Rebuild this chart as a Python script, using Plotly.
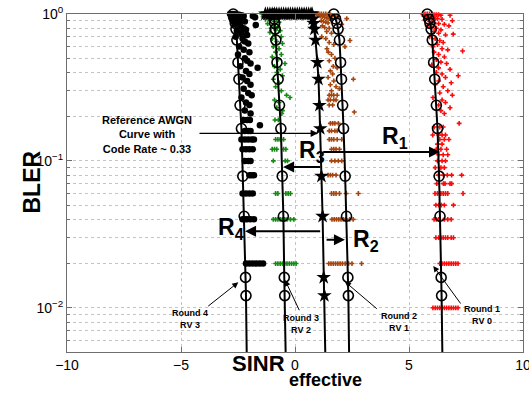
import math
import plotly.graph_objects as go

# ---------------- data ----------------
# BLER levels at which the curve markers sit (common to all curves)
curve_bler = [1.0, 0.925, 0.864, 0.79, 0.665, 0.468, 0.36, 0.239, 0.166, 0.0787, 0.042, 0.0161, 0.0121]
tail_bler = 0.004

round4_x = [-2.71, -2.66, -2.62, -2.59, -2.55, -2.50, -2.46, -2.41, -2.35, -2.29, -2.23, -2.17, -2.15]
round4_tail = -2.11
round3_x = [-0.93, -0.91, -0.89, -0.87, -0.84, -0.79, -0.74, -0.68, -0.62, -0.56, -0.51, -0.47, -0.45]
round3_tail = -0.40
awgn_x = [0.75, 0.78, 0.82, 0.85, 0.90, 0.98, 1.03, 1.07, 1.11, 1.16, 1.21, 1.26, 1.29]
awgn_tail = 1.34
awgn_band_x = [-1.3, -1.2, -1.1, -1.0, -0.9, -0.8, -0.7, -0.6, -0.5, -0.4, -0.3, -0.2, -0.1,
               0.0, 0.1, 0.2, 0.3, 0.4, 0.5, 0.6, 0.7]
awgn_band_bler = 1.0
round2_x = [1.70, 1.78, 1.84, 1.89, 1.95, 2.00, 2.04, 2.09, 2.13, 2.20, 2.26, 2.32, 2.34]
round2_tail = 2.38
round1_x = [5.80, 5.87, 5.92, 5.97, 6.02, 6.08, 6.13, 6.20, 6.25, 6.32, 6.36, 6.41, 6.43]
round1_tail = 6.47

# scattered per-channel points, upper (continuous) part: x, bler
black_up_x = [-2.85, -2.75, -2.65, -2.55, -2.45, -2.35, -2.25, -1.85, -1.75, -2.8, -2.6, -2.4, -2.3, -2.2, -2.7, -2.5, -1.72,
              -2.65, -2.4, -2.25, -2.15, -2.55, -2.35, -2.1, -2.6, -2.3, -2.2, -2.05, -2.45, -2.25, -2.0,
              -2.5, -2.2, -2.1, -1.95, -1.64, -2.4, -2.15, -2.0, -2.3, -2.1, -1.95, -2.25, -2.05, -1.9, -2.35, -2.15, -2.0, -2.2, -1.95]
black_up_y = [1.0, 1.0, 1.0, 0.99, 0.99, 0.98, 0.97, 0.97, 0.95, 0.95, 0.94, 0.93, 0.91, 0.89, 0.9, 0.88, 0.84,
              0.85, 0.83, 0.8, 0.78, 0.77, 0.74, 0.72, 0.7, 0.68, 0.65, 0.63, 0.6, 0.57, 0.55,
              0.53, 0.5, 0.48, 0.46, 0.43, 0.44, 0.41, 0.39, 0.37, 0.35, 0.33, 0.31, 0.29, 0.28, 0.27, 0.25, 0.24, 0.22, 0.21]
black_rows = [(0.19, [-2.25, -2.1, -1.98]), (0.175, [-1.54]), (0.16, [-2.2, -2.05, -1.95]),
              (0.14, [-2.35, -2.2, -2.05, -1.9, -1.8]), (0.12, [-2.3, -2.15, -2.0, -1.85]),
              (0.10, [-2.2, -2.05, -1.95]), (0.08, [-2.0, -1.9, -1.8]), (0.06, [-2.3, -2.15, -2.0, -1.85]),
              (0.04, [-2.3, -2.2, -2.1, -1.95, -1.8]), (0.02, [-2.15, -2.0, -1.85, -1.7, -1.55, -1.4])]

green_up_x = [-1.45, -1.35, -1.25, -1.15, -1.05, -0.95, -0.85, -0.75, -0.65, -1.4, -1.2, -1.0, -0.8, -1.3, -1.1, -0.9, -0.7,
              -1.2, -0.95, -0.75, -1.05, -0.85, -0.65, -1.1, -0.9, -0.6, -1.0, -0.8, -0.55, -0.95, -0.7, -0.85, -0.6, -1.0, -0.75, -0.44,
              -0.9, -0.65, -0.8, -0.55, -0.95, -0.7, -0.85, -0.6, -0.37, -0.22, -0.9, -0.7, -0.8, -0.55]
green_up_y = [1.0, 1.0, 1.0, 0.99, 0.99, 0.98, 0.98, 0.97, 0.97, 0.96, 0.95, 0.94, 0.93, 0.92, 0.9, 0.89, 0.88,
              0.86, 0.84, 0.82, 0.8, 0.78, 0.77, 0.75, 0.72, 0.7, 0.68, 0.65, 0.63, 0.6, 0.58, 0.55, 0.53, 0.51, 0.49, 0.46,
              0.44, 0.42, 0.4, 0.38, 0.36, 0.34, 0.32, 0.3, 0.28, 0.27, 0.26, 0.25, 0.23, 0.22]
green_rows = [(0.21, [-0.58]), (0.19, [-0.88, -0.73]), (0.14, [-0.85, -0.75, -0.65, -0.5]),
              (0.12, [-1.0, -0.9, -0.8, -0.5, -0.4]), (0.10, [-0.95, -0.43, -0.33]),
              (0.06, [-0.85, -0.75, -0.4, -0.3, -0.2]),
              (0.04, [-0.95, -0.85, -0.75, -0.65, -0.55, -0.45, -0.35, -0.2, -0.05]),
              (0.02, [-0.85, -0.75, -0.65, -0.55, -0.45, -0.35, -0.25, -0.15, -0.05, 0.05])]

brown_up_x = [0.95, 1.05, 1.15, 1.25, 1.35, 1.45, 1.55, 1.65, 1.75, 1.9, 1.0, 1.1, 1.2, 1.3, 1.4, 1.5, 2.27, 1.6,
              1.15, 1.25, 1.35, 1.45, 2.05, 1.2, 1.3, 1.5, 1.39, 1.6, 1.17, 1.35, 2.41, 1.5, 1.7, 2.19, 1.4, 1.46,
              1.6, 1.75, 1.5, 1.68, 1.85, 1.55, 1.65, 2.56, 1.45, 1.7, 1.55, 1.8, 1.6, 1.95]
brown_up_y = [1.0, 1.0, 1.0, 1.0, 1.0, 0.99, 0.99, 0.98, 0.97, 0.96, 0.98, 0.97, 0.96, 0.95, 0.94, 0.93, 0.93, 0.92,
              0.9, 0.89, 0.88, 0.87, 0.85, 0.83, 0.81, 0.8, 0.76, 0.74, 0.7, 0.68, 0.66, 0.64, 0.62, 0.6, 0.58, 0.55,
              0.53, 0.5, 0.48, 0.44, 0.43, 0.41, 0.39, 0.36, 0.37, 0.35, 0.33, 0.32, 0.3, 0.31]
brown_rows = [(0.28, [1.5, 1.6, 1.7, 1.85]), (0.26, [1.45, 1.55, 1.7, 1.8]), (0.24, [1.5, 1.65]),
              (0.215, [2.6]), (0.18, [1.55, 1.65, 1.75, 1.9]), (0.16, [1.5, 1.6, 1.75, 1.85]),
              (0.14, [1.5, 1.6, 1.7, 1.85, 2.05]), (0.12, [1.6, 1.7, 1.8, 1.95]),
              (0.10, [1.6, 1.75, 1.9, 2.05]), (0.08, [1.45, 1.55, 1.65, 1.8]),
              (0.06, [1.6, 1.7, 1.8, 1.95, 2.25, 2.78]),
              (0.04, [1.62, 1.72, 1.82, 1.92, 2.02, 2.12, 2.22, 2.4, 2.55]),
              (0.02, [1.48, 1.58, 1.68, 1.78, 1.88, 1.98, 2.08, 2.2, 2.35, 2.5, 2.92])]

red_up_x = [5.6, 5.7, 5.8, 5.9, 6.0, 6.1, 6.2, 6.3, 6.4, 6.8, 5.65, 5.75, 5.85, 5.95, 6.05, 6.15, 6.25, 6.45, 6.9,
            5.7, 5.9, 6.0, 6.1, 6.3, 6.55, 6.75, 5.8, 6.0, 6.2, 6.4, 6.94, 6.1, 6.3, 6.6,
            5.9, 6.15, 6.35, 6.5, 6.25, 6.05, 6.45, 6.7, 7.35, 6.1, 6.3, 6.55, 6.2, 6.4, 6.65, 6.0, 6.3, 6.8,
            6.2, 6.45, 7.16, 6.6, 6.3, 6.85, 6.15, 6.5, 6.7, 6.35, 6.9, 6.05, 6.45, 6.6, 6.3, 6.8, 6.4, 6.55, 7.2]
red_up_y = [1.0, 1.0, 1.0, 1.0, 1.0, 0.99, 0.99, 0.99, 0.98, 0.98, 0.97, 0.96, 0.95, 0.95, 0.94, 0.93, 0.93, 0.92, 0.9,
            0.91, 0.89, 0.88, 0.87, 0.86, 0.85, 0.83, 0.83, 0.81, 0.8, 0.78, 0.73, 0.76, 0.74, 0.72,
            0.7, 0.68, 0.66, 0.64, 0.62, 0.6, 0.58, 0.57, 0.56, 0.55, 0.53, 0.51, 0.49, 0.47, 0.46, 0.45, 0.43, 0.42,
            0.4, 0.39, 0.38, 0.37, 0.35, 0.34, 0.33, 0.32, 0.3, 0.29, 0.28, 0.27, 0.26, 0.25, 0.24, 0.23, 0.22, 0.21, 0.18]
red_rows = [(0.17, [6.1, 6.35, 6.5]), (0.15, [6.04, 6.3, 6.45, 6.6]), (0.14, [6.35, 6.55, 6.75]),
            (0.13, [6.25, 6.45]), (0.12, [6.2, 6.4, 6.65]), (0.11, [6.3, 6.5, 6.7]),
            (0.10, [6.25, 6.45, 6.6]), (0.09, [6.15, 6.4, 6.55]),
            (0.08, [6.29, 6.51, 6.68, 6.87, 7.31]), (0.07, [6.22, 6.51, 6.58, 6.8, 6.87]),
            (0.06, [6.14, 6.25, 6.4, 6.5, 6.6, 6.7, 7.37]), (0.05, [6.18, 6.3, 6.42, 6.55, 6.95]),
            (0.04, [6.1, 6.2, 6.3, 6.55, 6.7, 6.85]), (0.03, [6.18, 6.3, 6.4, 6.5, 6.6, 6.7, 6.85, 6.95]),
            (0.02, [6.35, 6.45, 6.55, 6.65, 6.75, 6.85, 6.95, 7.05, 7.15]),
            (0.01, [6.05, 6.15, 6.25, 6.35, 6.45, 6.55, 6.65, 6.75, 6.85, 6.95, 7.05, 7.15])]

x_ticks = [-10, -5, 0, 5, 10]
x_ticktext = ["−10", "−5", "0", "5", "10"]
y_ticks = [0.01, 0.1, 1]
y_ticktext = ["10<sup>−2</sup>", "10<sup>−1</sup>", "10<sup>0</sup>"]

# R arrows: (label, tail x, head x, bler)
r_arrows = [("1", 1.17, 6.36, 0.115), ("3", 1.17, -0.52, 0.0907),
            ("4", 1.17, -2.19, 0.0332), ("2", 1.32, 2.19, 0.0290)]
# ---------------- figure ----------------
FONT = "Liberation Sans, Arial, sans-serif"
GREEN = "#138a13"
BROWN = "#a5450f"
RED = "#ff0a0a"


def flatten(up_x, up_y, rows):
    xs, ys = list(up_x), list(up_y)
    for b, row in rows:
        xs += row
        ys += [b] * len(row)
    return xs, ys


fig = go.Figure()

scatter_sets = [
    (black_up_x, black_up_y, black_rows, "circle", 6.5, "black"),
    (green_up_x, green_up_y, green_rows, "cross", 4, GREEN),
    (brown_up_x, brown_up_y, brown_rows, "cross", 4, BROWN),
    (red_up_x, red_up_y, red_rows, "cross", 4, RED),
]
for ux, uy, rows, sym, sz, col in scatter_sets:
    xs, ys = flatten(ux, uy, rows)
    fig.add_trace(go.Scatter(x=xs, y=ys, mode="markers", cliponaxis=False,
                             marker=dict(symbol=sym, size=sz, color=col, line=dict(width=0))))

# curves
for cx, tail in [(round4_x, round4_tail), (round3_x, round3_tail), (round2_x, round2_tail),
                 (round1_x, round1_tail)]:
    fig.add_trace(go.Scatter(x=cx + [tail], y=curve_bler + [tail_bler], mode="lines",
                             line=dict(color="black", width=2)))
    fig.add_trace(go.Scatter(x=cx, y=curve_bler, mode="markers", cliponaxis=False,
                             marker=dict(symbol="circle-open", size=10, color="black",
                                         line=dict(width=1.6, color="black"))))

# reference AWGN curve (stars)
fig.add_trace(go.Scatter(x=awgn_x + [awgn_tail], y=curve_bler + [tail_bler], mode="lines",
                         line=dict(color="black", width=2)))
fig.add_trace(go.Scatter(x=awgn_band_x + awgn_x, y=[awgn_band_bler] * len(awgn_band_x) + curve_bler,
                         mode="markers", cliponaxis=False,
                         marker=dict(symbol="star", size=11, color="black", line=dict(width=0))))

W, H = 529, 402
L, R, T, B = 67, 6, 14, 50
pw, ph = W - L - R, H - T - B


def px2x(px):
    return -10 + (px - L) / pw * 20


def py2logy(py):
    return -(py - T) / ph * (0 - math.log10(0.005))


def px2paper(px):
    return (px - L) / pw


def py2paper(py):
    return (H - B - py) / ph


annotations = []
# R arrows and labels
label_pos = {"1": (380, 137), "3": (297, 151), "4": (216, 228), "2": (351, 240)}
for lab, tx, hx, b in r_arrows:
    annotations.append(dict(x=hx, y=math.log10(b), ax=tx, ay=math.log10(b), axref="x", ayref="y",
                            xref="x", yref="y", text="", showarrow=True, arrowhead=2, arrowsize=1.1,
                            arrowwidth=2, arrowcolor="black"))
    lx, ly = label_pos[lab]
    annotations.append(dict(x=px2x(lx), y=py2logy(ly), xref="x", yref="y", xanchor="left", yanchor="middle",
                            text="<b>R<sub>%s</sub></b>" % lab, showarrow=False,
                            font=dict(family=FONT, size=23, color="black")))

# reference AWGN text + arrow
annotations.append(dict(x=1.0, y=math.log10(0.154), ax=px2x(198), ay=math.log10(0.154), axref="x", ayref="y",
                        xref="x", yref="y", text="", showarrow=True, arrowhead=2, arrowsize=1.1,
                        arrowwidth=1.3, arrowcolor="black"))
annotations.append(dict(x=px2x(147), y=py2logy(134), xref="x", yref="y", showarrow=False,
                        text="<b>Reference AWGN<br>Curve with<br>Code Rate ~ 0.33</b>",
                        font=dict(family=FONT, size=11, color="black"), align="center"))

# round labels: (text, text center px, tail px, head px)
round_labels = [("Round 4<br>RV 3", (190, 319), (206.7, 307.3), (238.3, 282.3)),
                ("Round 3<br>RV 2", (301, 324), (300, 311.7), (285, 280)),
                ("Round 2<br>RV 1", (399.3, 322), (378.3, 310), (345, 281.7)),
                ("Round 1<br>RV 0", (481.7, 315), (461.7, 305), (433.3, 266))]
for txt, c, tl, hd in round_labels:
    annotations.append(dict(x=px2x(hd[0]), y=py2logy(hd[1]), ax=px2x(tl[0]), ay=py2logy(tl[1]),
                            axref="x", ayref="y", xref="x", yref="y", text="", showarrow=True,
                            arrowhead=2, arrowsize=1.2, arrowwidth=1, arrowcolor="black"))
    annotations.append(dict(x=px2x(c[0]), y=py2logy(c[1]), xref="x", yref="y", showarrow=False,
                            text="<b>%s</b>" % txt, font=dict(family=FONT, size=9, color="black"),
                            align="center"))

# axis titles
annotations.append(dict(x=px2paper(258), y=py2paper(377), xref="paper", yref="paper", showarrow=False,
                        text="<b>SINR</b>", font=dict(family=FONT, size=22, color="black"), borderpad=0))
annotations.append(dict(x=px2paper(325), y=py2paper(391), xref="paper", yref="paper", showarrow=False,
                        text="<b>effective</b>", font=dict(family=FONT, size=18, color="black"), borderpad=0))
annotations.append(dict(x=px2paper(16.5), y=py2paper(182), xref="paper", yref="paper", showarrow=False,
                        text="<b>BLER</b>", textangle=-90, font=dict(family=FONT, size=23, color="black")))

minor_vals = [m * 10 ** e for e in (-3, -2, -1) for m in range(2, 10) if m * 10 ** e >= 0.005]

AX = "#6e6e6e"
GRID = "#c4c4c4"
fig.update_layout(
    width=W, height=H, margin=dict(l=L, r=R, t=T, b=B, autoexpand=False),
    paper_bgcolor="white", plot_bgcolor="white", showlegend=False,
    font=dict(family=FONT, size=14, color="black"),
    annotations=annotations,
    xaxis=dict(range=[-10, 10], tickvals=x_ticks, ticktext=x_ticktext, automargin=False,
               showline=True, mirror="ticks", linecolor=AX, linewidth=1, ticks="inside", ticklen=5,
               tickcolor=AX, showgrid=True, gridcolor=GRID, griddash="dot", gridwidth=1,
               zeroline=False, tickfont=dict(family=FONT, size=14), ticklabeloverflow="allow"),
    yaxis=dict(type="log", range=[math.log10(0.005), 0], tickvals=y_ticks, ticktext=y_ticktext,
               automargin=False, ticklabeloverflow="allow",
               showline=True, mirror="ticks", linecolor=AX, linewidth=1, ticks="inside", ticklen=5,
               tickcolor=AX, showgrid=True, gridcolor=GRID, griddash="dot", gridwidth=1,
               zeroline=False, tickfont=dict(family=FONT, size=14),
               minor=dict(tickvals=minor_vals, ticks="inside", ticklen=3, tickcolor=AX,
                          showgrid=True, gridcolor=GRID, griddash="dot", gridwidth=1)),
)

# the page's default 8px body margin would shift the figure; remove it
fig.write_html("out.html", config={"displayModeBar": False},
               post_script="document.body.style.margin='0px';")
